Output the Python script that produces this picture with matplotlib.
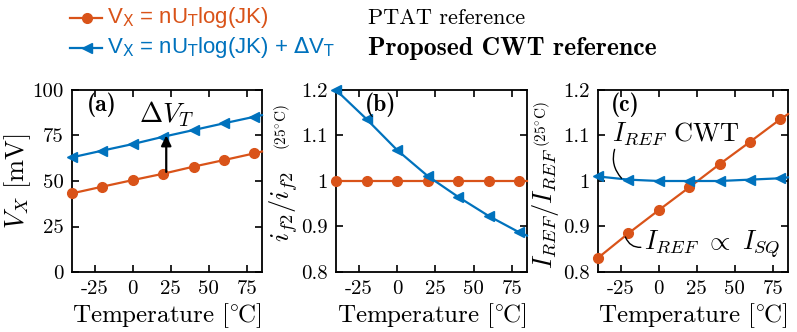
import numpy as np
import matplotlib
matplotlib.use('Agg')
import matplotlib.pyplot as plt
from matplotlib.lines import Line2D

# temperatures (markers every 20 C, line runs to the axis edge at 85 C)
temp = [-40, -20, 0, 20, 40, 60, 80, 85]

# (a) V_X in mV
vx_ptat = [43.2, 46.9, 50.5, 54.0, 57.9, 61.5, 65.2, 66.2]
vx_cwt = [63.0, 66.7, 70.3, 74.3, 78.0, 81.7, 85.3, 86.2]

# (b) normalised i_f2
if2_ptat = [1.0, 1.0, 1.0, 1.0, 1.0, 1.0, 1.0, 1.0]
if2_cwt = [1.2, 1.136, 1.068, 1.011, 0.965, 0.923, 0.887, 0.880]

# (c) normalised I_REF
iref_ptat = [0.831, 0.885, 0.936, 0.986, 1.037, 1.086, 1.136, 1.147]
iref_cwt = [1.010, 1.003, 1.000, 1.000, 1.000, 1.003, 1.006, 1.008]

xticks = [-25, 0, 25, 50, 75]
xticklabels = ['-25', '0', '25', '50', '75']
yticks_a = [0, 25, 50, 75, 100]
yticks_bc = [0.8, 0.9, 1.0, 1.1, 1.2]
yticklabels_bc = ['0.8', '0.9', '1', '1.1', '1.2']

ORANGE = '#D95319'
BLUE = '#0072BD'

plt.rcParams['font.family'] = 'cmr10'
plt.rcParams['mathtext.fontset'] = 'cm'
plt.rcParams['axes.unicode_minus'] = False
plt.rcParams['axes.linewidth'] = 1.3

fig = plt.figure(figsize=(7.97, 3.32), dpi=100)

W, H = 797.0, 332.0
boxes = [(72, 262), (336, 527), (598, 788)]
top, bot = 90, 272
axs = []
for l, r in boxes:
    axs.append(fig.add_axes([l / W, 1 - bot / H, (r - l) / W, (bot - top) / H]))

mk = [0, 1, 2, 3, 4, 5, 6]


def series(ax, y_ptat, y_cwt):
    ax.plot(temp, y_ptat, color=ORANGE, lw=1.6, marker='o', ms=7,
            markevery=mk, clip_on=False, zorder=3)
    ax.plot(temp, y_cwt, color=BLUE, lw=1.6, marker='<', ms=7,
            markevery=mk, clip_on=False, zorder=3)


def style(ax, yt, ytl):
    ax.set_xlim(-40, 85)
    ax.set_xticks(xticks)
    ax.set_xticklabels(xticklabels)
    ax.set_yticks(yt)
    ax.set_yticklabels(ytl)
    ax.tick_params(direction='in', top=True, right=True, labelsize=15,
                   length=5, width=1.2, pad=6)
    ax.set_xlabel(r'$\mathrm{Temperature\ [{}^{\circ}\hspace{-0.07}C]}$',
                  fontsize=18, labelpad=2)


ax = axs[0]
series(ax, vx_ptat, vx_cwt)
style(ax, yticks_a, [str(v) for v in yticks_a])
ax.set_ylim(0, 100)
ax.set_ylabel(r'$V_X\ [\mathrm{mV}]$', fontsize=19)
ax.yaxis.set_label_coords(-0.205, 0.5)
ax.annotate('', xy=(22, 75), xytext=(22, 55),
            arrowprops=dict(arrowstyle='-|>', color='k', lw=1.6,
                            mutation_scale=15, shrinkA=0, shrinkB=0))
ax.text(22, 87, r'$\Delta V_T$', fontsize=20, ha='center', va='center')
ax.text(0.08, 0.985, '(a)', transform=ax.transAxes, family='cmb10',
        fontsize=17, va='top')

ax = axs[1]
series(ax, if2_ptat, if2_cwt)
style(ax, yticks_bc, yticklabels_bc)
ax.set_ylim(0.8, 1.2)
ax.text(-0.277, 0.36, r'$i_{f2}/i_{f2}$', transform=ax.transAxes,
        fontsize=19, rotation=90, ha='center', va='center')
ax.text(-0.285, 0.794, r'(25$^{\circ}$C)', transform=ax.transAxes,
        fontsize=11, rotation=90, ha='center', va='center')
ax.text(0.15, 0.985, '(b)', transform=ax.transAxes, family='cmb10',
        fontsize=17, va='top')

ax = axs[2]
series(ax, iref_ptat, iref_cwt)
style(ax, yticks_bc, yticklabels_bc)
ax.set_ylim(0.8, 1.2)
ax.text(-0.274, 0.349, r'$I_{REF}/I_{REF}$', transform=ax.transAxes,
        fontsize=19, rotation=90, ha='center', va='center')
ax.text(-0.295, 0.813, r'(25$^{\circ}$C)', transform=ax.transAxes,
        fontsize=11, rotation=90, ha='center', va='center')
ax.text(0.07, 0.985, '(c)', transform=ax.transAxes, family='cmb10',
        fontsize=17, va='top')
ax.annotate(r'$I_{REF}$ CWT', xy=(-24.5, 1.006), xytext=(-31, 1.105),
            fontsize=19, va='center', ha='left',
            arrowprops=dict(arrowstyle='-', color='k', lw=1.0,
                            shrinkA=0, shrinkB=0,
                            connectionstyle='arc3,rad=0.3',
                            relpos=(0.03, 0.0)))
ax.annotate(r'$I_{REF}\ \propto\ I_{SQ}$', xy=(-22, 0.877),
            xytext=(-10, 0.862), fontsize=19, va='center', ha='left',
            arrowprops=dict(arrowstyle='-', color='k', lw=1.0,
                            shrinkA=0, shrinkB=0,
                            connectionstyle='arc3,rad=-0.4',
                            relpos=(0.0, 0.4)))

# legend drawn at top of the figure
legend_rows = [
    (18, ORANGE, 'o', r'V$_\mathrm{X}$ = nU$_\mathrm{T}$log(JK)',
     'PTAT reference', 'cmr10', 16),
    (48, BLUE, '<',
     r'V$_\mathrm{X}$ = nU$_\mathrm{T}$log(JK) + $\Delta$V$_\mathrm{T}$',
     'Proposed CWT reference', 'cmb10', 18.5),
]
for yy, col, m, lab, desc, fam, fs in legend_rows:
    yf = 1 - yy / H
    fig.add_artist(Line2D([70 / W, 102 / W], [yf, yf], color=col, lw=1.6))
    fig.add_artist(Line2D([86.5 / W], [yf], color=col, marker=m, ms=7))
    fig.text(107 / W, yf, lab, color=col, fontsize=16, va='center',
             family='Liberation Sans', math_fontfamily='dejavusans')
    fig.text(368 / W, yf, desc, fontsize=fs, va='center', family=fam)

fig.savefig('out.png', dpi=100)
